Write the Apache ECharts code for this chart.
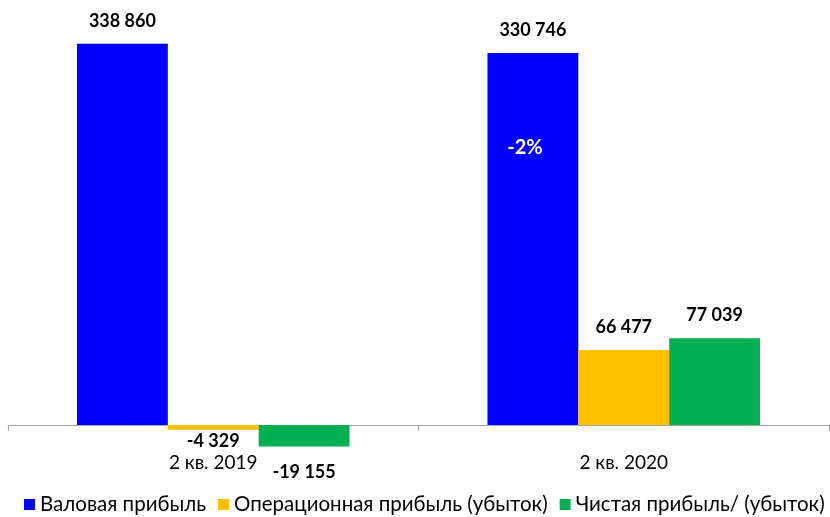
<!DOCTYPE html>
<html>
<head>
<meta charset="utf-8">
<script src="https://cdn.jsdelivr.net/npm/echarts@6/dist/echarts.min.js"></script>
<style>
    html, body { margin: 0; padding: 0; background: #fff; }
    #chart { width: 830px; height: 517px; }
</style>
</head>
<body>
<div id="chart"></div>
<script>
// данные
const categories = ['2 кв. 2019', '2 кв. 2020']
const seriesNames = ['Валовая прибыль', 'Операционная прибыль (убыток)', 'Чистая прибыль/ (убыток)']
const grossProfit = [338860, 330746]
const operatingProfit = [-4329, 66477]
const netProfit = [-19155, 77039]
const colors = ['#0000FF', '#FFC000', '#00B050']

const font = 'Lato, "Noto Sans", sans-serif'

function fmt(v) {
    return String(v).replace(/\B(?=(\d{3})+(?!\d))/g, ' ')
}

// подпись под отрицательными столбцами
function items(arr, negDistance) {
    return arr.map(function (v) {
        if (v < 0) {
            return { value: v, label: { position: 'bottom', distance: negDistance } }
        }
        return v
    })
}

// изменение валовой прибыли
const change = Math.round((grossProfit[1] - grossProfit[0]) / grossProfit[0] * 100)

const labelStyle = {
    show: true,
    position: 'top',
    distance: 14,
    color: '#000',
    fontFamily: font,
    fontWeight: 'bold',
    fontSize: 18,
    formatter: function (p) { return fmt(p.value) }
}

const option = {
    animation: false,
    color: colors,
    grid: {
        left: 8,
        right: 1,
        top: 20,
        height: 433
    },
    legend: {
        top: 489,
        left: 19,
        width: 811,
        padding: [5, 0, 5, 5],
        icon: 'rect',
        itemWidth: 11,
        itemHeight: 11,
        itemGap: 12,
        textStyle: {
            color: '#000',
            fontFamily: font,
            fontSize: 20.5
        },
        data: seriesNames
    },
    xAxis: {
        type: 'category',
        data: categories,
        axisLine: { lineStyle: { color: '#A6A6A6', width: 1 } },
        axisTick: { show: true, length: 6, lineStyle: { color: '#A6A6A6' } },
        axisLabel: {
            margin: 0,
            color: '#000',
            fontFamily: font,
            fontSize: 19
        }
    },
    yAxis: {
        type: 'value',
        min: -25000,
        max: 360000,
        show: false,
        splitLine: { show: false }
    },
    series: [
        {
            name: seriesNames[0],
            type: 'bar',
            data: items(grossProfit, 2),
            barGap: 0,
            barCategoryGap: '33.6%',
            label: labelStyle,
            markPoint: {
                symbol: 'rect',
                symbolSize: 0,
                data: [{ coord: [categories[1], grossProfit[1]] }],
                label: {
                    show: true,
                    offset: [-8, 95],
                    color: '#fff',
                    fontFamily: font,
                    fontWeight: 'bold',
                    fontSize: 20,
                    formatter: change + '%'
                }
            }
        },
        {
            name: seriesNames[1],
            type: 'bar',
            data: items(operatingProfit, 2),
            label: labelStyle
        },
        {
            name: seriesNames[2],
            type: 'bar',
            data: items(netProfit, 17),
            label: labelStyle
        }
    ]
}

const chart = echarts.init(document.getElementById('chart'))
chart.setOption(option)
window.addEventListener('resize', function () { chart.resize() })
</script>
</body>
</html>
